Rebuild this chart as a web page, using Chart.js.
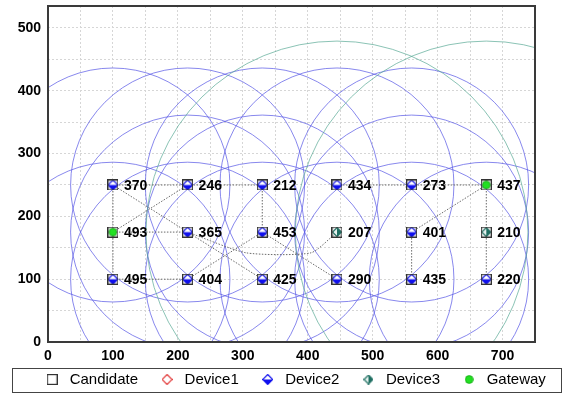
<!DOCTYPE html>
<html>
<head>
<meta charset="utf-8">
<script src="https://cdn.jsdelivr.net/npm/chart.js@4.4.1/dist/chart.umd.min.js"></script>
<style>
  html, body { margin: 0; padding: 0; background: #fff; }
  #wrap { width: 566px; height: 394px; }
</style>
</head>
<body>
<div id="wrap"><canvas id="chart" width="566" height="394"></canvas></div>
<script>
// node ids, grid positions and role
const nodeIds = ['370', '246', '212', '434', '273', '437', '493', '365', '453', '207', '401', '210', '495', '404', '425', '290', '435', '220'];
const nodeX = [100, 215, 330, 445, 560, 675, 100, 215, 330, 445, 560, 675, 100, 215, 330, 445, 560, 675];
const nodeY = [250, 250, 250, 250, 250, 250, 175, 175, 175, 175, 175, 175, 100, 100, 100, 100, 100, 100];
const nodeTypes = ['Device2', 'Device2', 'Device2', 'Device2', 'Device2', 'Gateway',
  'Gateway', 'Device2', 'Device2', 'Device3', 'Device2', 'Device3',
  'Device2', 'Device2', 'Device2', 'Device2', 'Device2', 'Device2'];
const links = [['370', '246'], ['246', '212'], ['434', '273'], ['273', '437'], ['370', '493'], ['493', '495'],
  ['370', '365'], ['365', '425'], ['493', '246'], ['493', '365'], ['495', '404'], ['404', '453'],
  ['212', '453'], ['453', '290'], ['437', '401'], ['401', '435'], ['437', '210'], ['210', '220']];
const routeFrom = '365';
const routeTo = '207';
const routeViaX = [305, 405];
const routeViaY = [142, 142];
const legendNames = ['Candidate', 'Device1', 'Device2', 'Device3', 'Gateway'];
const xTickLabels = [0, 100, 200, 300, 400, 500, 600, 700];
const yTickLabels = [0, 100, 200, 300, 400, 500];
const xGrid = [0, 50, 100, 150, 200, 250, 300, 350, 400, 450, 500, 550, 600, 650, 700, 750];
const yGrid = [0, 50, 100, 150, 200, 250, 300, 350, 400, 450, 500];

const fontFamily = 'Arial, "Liberation Sans", sans-serif';
Chart.defaults.font.family = fontFamily;
Chart.defaults.color = '#000';

function nodePoint(id) {
  const i = nodeIds.indexOf(id);
  return { x: nodeX[i], y: nodeY[i] };
}

function pointsOfType(type) {
  return nodeIds.filter((id, i) => nodeTypes[i] === type).map(nodePoint);
}

function icon(size, draw) {
  const c = document.createElement('canvas');
  c.width = size;
  c.height = size;
  draw(c.getContext('2d'), size);
  return c;
}

function diamondPath(g, s) {
  const m = s / 2;
  g.beginPath();
  g.moveTo(m, 0.5);
  g.lineTo(s - 0.5, m);
  g.lineTo(m, s - 0.5);
  g.lineTo(0.5, m);
  g.closePath();
}

const candidateIcon = icon(11, (g, s) => {
  g.strokeStyle = '#333';
  g.lineWidth = 1.2;
  g.strokeRect(0.6, 0.6, s - 1.2, s - 1.2);
});
const device1Icon = icon(11, (g, s) => {
  diamondPath(g, s);
  g.strokeStyle = '#e23a3a';
  g.lineWidth = 1.2;
  g.stroke();
});
const device2Icon = icon(11, (g, s) => {
  diamondPath(g, s);
  g.fillStyle = '#fff';
  g.fill();
  g.save();
  g.clip();
  g.fillStyle = '#1010ee';
  g.fillRect(0, s / 2, s, s / 2);
  g.restore();
  diamondPath(g, s);
  g.strokeStyle = '#1010ee';
  g.lineWidth = 1.2;
  g.stroke();
});
const device3Icon = icon(10, (g, s) => {
  diamondPath(g, s);
  g.fillStyle = '#e6f2ef';
  g.fill();
  g.save();
  g.clip();
  g.fillStyle = '#1f6f62';
  g.fillRect(s / 2, 0, s / 2, s);
  g.restore();
  diamondPath(g, s);
  g.strokeStyle = '#1f6f62';
  g.lineWidth = 1.2;
  g.stroke();
});
const gatewayIcon = icon(9, (g, s) => {
  g.beginPath();
  g.arc(s / 2, s / 2, s / 2 - 0.6, 0, Math.PI * 2);
  g.fillStyle = '#22e022';
  g.fill();
  g.strokeStyle = '#17a817';
  g.lineWidth = 0.8;
  g.stroke();
});

const edgePoints = [];
links.forEach(([a, b]) => edgePoints.push(nodePoint(a), nodePoint(b), { x: null, y: null }));
const routePoints = [nodePoint(routeFrom), ...routeViaX.map((x, i) => ({ x, y: routeViaY[i] })), nodePoint(routeTo)];

const markerSet = (label, data, style, order) => ({ label, data, pointStyle: style, pointRadius: 5, order, showLine: false });

const nodeLabels = {
  id: 'nodeLabels',
  afterLayout(chart) {
    // the framed legend in the reference sits a little right of centre and above the layout slot
    const lg = chart.legend;
    lg.left = 22;
    lg.top -= 13;
    lg.bottom -= 13;
  },
  afterDatasetsDraw(chart) {
    const { ctx, scales: { x, y } } = chart;
    ctx.save();
    ctx.font = `bold 14px ${fontFamily}`;
    ctx.fillStyle = '#000';
    ctx.textBaseline = 'middle';
    nodeIds.forEach((id, i) => ctx.fillText(id, x.getPixelForValue(nodeX[i]) + 11, y.getPixelForValue(nodeY[i]) + 1));
    ctx.restore();
  },
  afterDraw(chart) {
    const { ctx, chartArea: a } = chart;
    ctx.save();
    ctx.strokeStyle = '#3a3a3a';
    ctx.lineWidth = 2;
    ctx.strokeRect(a.left, a.top, a.right - a.left, a.bottom - a.top);
    ctx.lineWidth = 1;
    ctx.strokeStyle = '#444';
    ctx.strokeRect(12.5, 368.5, 549, 24);
    ctx.restore();
  }
};

const noPad = (s) => { s.paddingTop = 0; s.paddingBottom = 0; s.paddingLeft = 0; s.paddingRight = 0; };

new Chart(document.getElementById('chart'), {
  type: 'scatter',
  data: {
    datasets: [
      markerSet('Candidate', nodeIds.map(nodePoint), candidateIcon, 0),
      markerSet('Device1', [], device1Icon, 1),
      markerSet('Device2', pointsOfType('Device2'), device2Icon, 1),
      markerSet('Device3', pointsOfType('Device3'), device3Icon, 1),
      markerSet('Gateway', pointsOfType('Gateway'), gatewayIcon, 1),
      { label: 'range2', data: pointsOfType('Device2'), pointStyle: 'circle', pointRadius: 117, pointBorderWidth: 1,
        pointBorderColor: 'rgba(85, 85, 230, 0.7)', pointBackgroundColor: 'transparent', clip: 0, order: 10 },
      { label: 'range3', data: pointsOfType('Device3'), pointStyle: 'circle', pointRadius: 191, pointBorderWidth: 1,
        pointBorderColor: 'rgba(90, 170, 150, 0.7)', pointBackgroundColor: 'transparent', clip: 0, order: 9 },
      { label: 'links', data: edgePoints, showLine: true, pointRadius: 0, borderColor: '#6a6a6a', borderWidth: 1,
        borderDash: [1.5, 1.5], spanGaps: false, order: 5 },
      { label: 'route', data: routePoints, showLine: true, pointRadius: 0, borderColor: '#6a6a6a', borderWidth: 1,
        borderDash: [1.5, 1.5], tension: 0.2, order: 5 }
    ]
  },
  options: {
    responsive: false,
    animation: false,
    events: [],
    layout: { autoPadding: false, padding: { left: 0, top: 6, right: 0, bottom: -16 } },
    plugins: {
      tooltip: { enabled: false },
      legend: {
        position: 'bottom',
        labels: {
          usePointStyle: true,
          pointStyleWidth: 20,
          padding: 19,
          font: { size: 15 },
          color: '#000',
          filter: (item) => legendNames.includes(item.text)
        }
      }
    },
    scales: {
      x: {
        type: 'linear', min: 0, max: 750,
        afterBuildTicks: (s) => { s.ticks = xGrid.map((value) => ({ value })); },
        afterFit: (s) => { s.height = 24; noPad(s); },
        ticks: { autoSkip: false, maxRotation: 0, padding: 6, font: { size: 14, weight: 'bold' }, color: '#000',
          callback: (v) => (xTickLabels.includes(v) ? String(v) : '') },
        grid: { color: '#d6d6d6', drawTicks: false },
        border: { display: false, dash: [2, 2] }
      },
      y: {
        type: 'linear', min: 0, max: 535,
        afterBuildTicks: (s) => { s.ticks = yGrid.map((value) => ({ value })); },
        afterFit: (s) => { s.width = 48; noPad(s); },
        ticks: { autoSkip: false, padding: 7, font: { size: 14, weight: 'bold' }, color: '#000',
          callback: (v) => (yTickLabels.includes(v) ? String(v) : '') },
        grid: { color: '#d6d6d6', drawTicks: false },
        border: { display: false, dash: [2, 2] }
      },
      gap: {
        type: 'linear', position: 'right', display: true,
        afterFit: (s) => { s.width = 31; noPad(s); },
        ticks: { display: false }, grid: { display: false }, border: { display: false }
      }
    }
  },
  plugins: [nodeLabels]
});
</script>
</body>
</html>
